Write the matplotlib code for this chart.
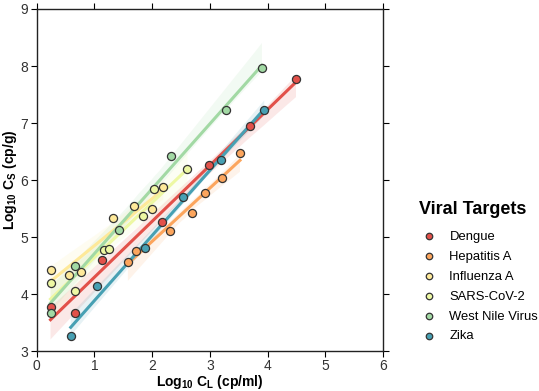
import numpy as np
import pandas as pd
import matplotlib
matplotlib.use("Agg")
import matplotlib.pyplot as plt
import seaborn as sns

plt.rcParams['font.family'] = ['Liberation Sans', 'DejaVu Sans']
plt.rcParams['mathtext.fontset'] = 'custom'
plt.rcParams['mathtext.bf'] = 'Liberation Sans:bold'
plt.rcParams['mathtext.rm'] = 'Liberation Sans'
plt.rcParams['mathtext.default'] = 'bf'

targets = ["Dengue", "Hepatitis A", "Influenza A", "SARS-CoV-2", "West Nile Virus", "Zika"]

# log10 CL (x) and log10 CS (y) per target
dengue_x = [0.24, 0.67, 1.13, 2.17, 2.99, 3.69, 4.49]
dengue_y = [3.77, 3.67, 4.60, 5.27, 6.26, 6.95, 7.77]
hepa_x = [1.58, 1.72, 2.31, 2.69, 2.91, 3.21, 3.52]
hepa_y = [4.57, 4.76, 5.11, 5.43, 5.78, 6.04, 6.47]
flu_x = [0.24, 0.555, 0.77, 1.33, 1.69, 1.99, 2.19]
flu_y = [4.43, 4.34, 4.39, 5.33, 5.54, 5.50, 5.87]
sars_x = [0.24, 0.67, 1.17, 1.26, 1.84, 2.04, 2.61]
sars_y = [4.19, 4.06, 4.77, 4.79, 5.37, 5.85, 6.20]
wnv_x = [0.24, 0.67, 1.43, 2.33, 3.28, 3.90]
wnv_y = [3.67, 4.50, 5.13, 6.43, 7.22, 7.97]
zika_x = [0.59, 1.05, 1.87, 2.54, 3.19, 3.94]
zika_y = [3.27, 4.14, 4.81, 5.71, 6.36, 7.23]

xs = [dengue_x, hepa_x, flu_x, sars_x, wnv_x, zika_x]
ys = [dengue_y, hepa_y, flu_y, sars_y, wnv_y, zika_y]

colors = sns.color_palette("Spectral", 6)

fig = plt.figure(figsize=(5.39, 3.91), dpi=100)
ax = fig.add_axes([0.068, 0.102, 0.643, 0.875])

handles = []
for name, x, y, c in zip(targets, xs, ys, colors):
    df = pd.DataFrame({"x": x, "y": y})
    sns.regplot(data=df, x="x", y="y", ax=ax, color=c, scatter=False, ci=95,
                seed=0, line_kws={"lw": 2.2})
    ax.collections[-1].set_alpha(0.13)
for name, x, y, c in zip(targets, xs, ys, colors):
    h = ax.scatter(x, y, s=34, color=c, edgecolor="#333333", linewidth=0.9,
                   zorder=5, label=name)
    handles.append(h)

ax.set_xlim(0, 6)
ax.set_ylim(3, 9)
ax.set_xticks(range(0, 7))
ax.set_yticks(range(3, 10))
ax.tick_params(which="both", direction="out", length=4, pad=2, top=True, right=True,
               labelsize=10, labelcolor="#333333")
for s in ax.spines.values():
    s.set_color("#222222")
    s.set_linewidth(1.0)

ax.set_xlabel(r"Log$_{10}$ C$_L$ (cp/ml)", fontsize=10, fontweight="bold", labelpad=0)
ax.set_ylabel(r"Log$_{10}$ C$_S$ (cp/g)", fontsize=10, fontweight="bold", labelpad=1)

leg = ax.legend(handles=handles, title="Viral Targets", loc="center left",
                bbox_to_anchor=(1.097, 0.232), frameon=False, fontsize=9.4,
                title_fontproperties={"weight": "bold", "size": 13},
                markerscale=0.8, handlelength=1.4, handletextpad=0.9,
                labelspacing=0.6, borderaxespad=0, borderpad=0.2)
leg._legend_box.align = "left"
leg._legend_box.sep = 9  # more room under the title

fig.savefig("out.png", dpi=100)
